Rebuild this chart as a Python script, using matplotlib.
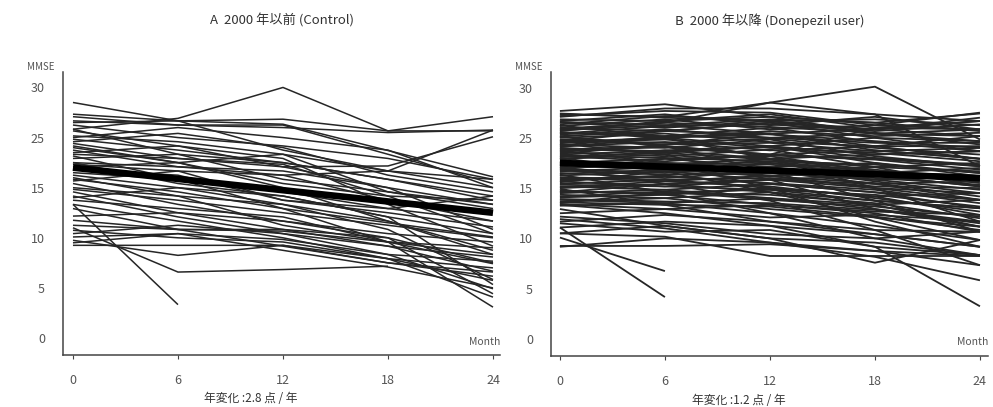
import matplotlib
matplotlib.use("Agg")
import matplotlib.pyplot as plt

plt.rcParams['font.family'] = ['Noto Sans CJK JP', 'DejaVu Sans']

months = [0, 6, 12, 18, 24]
x_ticks = [0, 6, 12, 18, 24]
y_tick_pos = [0, 6, 12, 18, 24, 30]
y_tick_labels = ['0', '5', '10', '15', '25', '30']

titles = ['A  2000 年以前 (Control)', 'B  2000 年以降 (Donepezil user)']
footers = ['年変化 :2.8 点 / 年', '年変化 :1.2 点 / 年']

N = None
# Panel A: individual trajectories (MMSE at months 0, 6, 12, 18, 24)
control = [
    [28.2, 26.0, 25.6, N, 19.3],
    [25.0, 26.3, 30.0, 24.8, 24.8],
    [26.8, 26.0, 26.2, 24.8, 26.5],
    [26.0, 25.5, 25.2, 24.6, 24.9],
    [22.0, 21.5, 20.5, 20.6, 24.1],
    [25.5, 24.0, 23.0, 21.5, 19.0],
    [24.2, 23.5, 22.0, 20.0, 18.0],
    [23.5, 24.5, 22.8, 19.5, 17.5],
    [25.0, 22.0, 21.0, 19.0, 17.0],
    [23.0, 21.0, 18.5, 17.0, 16.5],
    [22.5, 20.5, 20.0, 18.0, 16.0],
    [21.5, 22.0, 19.0, 17.5, 15.5],
    [20.8, 20.0, 19.5, 16.5, 14.0],
    [20.2, 19.5, 16.5, 15.0, 13.3],
    [19.5, 18.0, 17.0, 14.5, 12.5],
    [19.0, 17.5, 15.5, 13.8, 12.1],
    [18.5, 16.0, 14.0, 12.5, 11.5],
    [18.0, 17.0, 13.5, 11.5, 10.8],
    [17.5, 15.0, 13.0, 11.0, 9.7],
    [17.0, 14.5, 12.5, 10.0, 9.2],
    [16.5, 15.5, 14.5, 11.5, 8.9],
    [16.0, 14.0, 12.0, 9.5, 8.4],
    [15.5, 13.0, 11.0, 9.0, 7.9],
    [16.0, 4.0, N, N, N],
    [13.2, 7.9, 8.2, 8.6, N],
    [11.7, 9.9, 11.1, 9.5, 6.9],
    [11.1, 11.1, 11.1, 9.0, 7.4],
    [12.1, 12.5, 11.8, 10.0, 5.9],
    [12.9, 12.0, 11.5, 9.5, 4.9],
    [14.1, 13.0, 12.8, 11.5, 10.0],
    [22.8, 21.0, 18.0, 14.0, 10.5],
    [24.8, 23.0, 21.5, 16.0, 11.0],
    [26.5, 25.5, 25.5, 22.0, 18.5],
    [21.0, 18.5, 17.0, 14.5, 6.4],
    [23.3, 21.5, 20.8, 17.0, 12.5],
    [19.8, 19.0, 15.5, 11.5, 3.7],
    [22.2, 23.0, 20.5, 18.0, 13.0],
    [13.5, 13.0, 13.0, 12.0, 5.3],
    [20.5, 21.0, 22.0, 17.5, 16.0],
    [18.8, 20.0, 16.5, 15.5, 17.0],
    [21.8, 19.0, 17.5, 15.5, 14.0],
    [24.0, 25.2, 24.0, 22.5, 18.0],
    [12.5, 13.5, 12.5, 11.0, 8.0],
    [17.8, 16.5, 15.0, 13.5, 12.0],
    [16.8, 18.0, 16.0, 14.0, 10.0],
    [25.8, 26.0, 22.5, 20.0, 19.0],
    [23.8, 22.5, 21.0, 19.0, 16.5],
    [14.6, 15.0, 14.0, 12.0, 9.0],
    [11.4, 12.5, 10.5, 8.5, 6.0],
    [19.2, 17.0, 16.0, 13.0, 7.0],
    [21.0, 20.5, 19.5, 20.0, 24.9],
]
control_mean = [20.4, 15.0]

# Panel B: individual trajectories
donepezil = [
    [27.2, 28.0, 26.5, 25.8, 26.9],
    [25.0, 25.8, 28.2, 30.1, 23.8],
    [26.8, 26.5, 28.2, 26.8, 20.6],
    [26.6, 27.2, 27.0, 25.5, 27.0],
    [26.2, 26.0, 26.8, 25.2, 26.0],
    [26.0, 26.8, 25.5, 26.5, 25.0],
    [25.8, 25.2, 26.0, 24.5, 24.2],
    [25.4, 26.2, 25.0, 25.5, 25.0],
    [25.2, 24.8, 25.8, 24.0, 23.6],
    [24.9, 25.5, 24.5, 25.0, 26.0],
    [24.6, 24.2, 25.2, 23.5, 22.4],
    [24.4, 25.0, 24.0, 24.5, 23.6],
    [24.0, 24.5, 23.5, 23.0, 24.2],
    [23.8, 23.2, 24.5, 22.5, 21.5],
    [23.5, 24.0, 23.0, 24.0, 22.4],
    [23.2, 22.8, 23.8, 21.8, 20.6],
    [23.0, 23.5, 22.5, 23.0, 23.0],
    [22.8, 22.2, 23.0, 21.0, 19.8],
    [22.6, 23.0, 22.0, 22.5, 21.5],
    [22.3, 21.8, 22.6, 20.5, 18.2],
    [22.0, 22.5, 21.5, 22.0, 22.4],
    [21.8, 21.2, 22.0, 21.5, 20.6],
    [21.5, 22.0, 21.0, 20.0, 19.0],
    [21.2, 20.8, 21.5, 20.5, 21.0],
    [21.0, 21.5, 20.5, 21.0, 19.4],
    [20.8, 20.2, 21.0, 19.5, 18.2],
    [20.6, 21.0, 20.0, 20.5, 20.0],
    [20.3, 19.8, 20.5, 18.8, 17.4],
    [20.0, 20.5, 19.5, 19.8, 19.0],
    [19.8, 19.2, 20.0, 18.5, 16.6],
    [19.5, 20.0, 19.0, 19.5, 18.2],
    [19.2, 18.8, 19.5, 18.0, 17.4],
    [19.0, 19.5, 18.5, 17.5, 15.6],
    [18.8, 18.2, 19.0, 18.5, 18.8],
    [18.5, 19.0, 18.0, 17.0, 14.8],
    [18.2, 17.8, 18.5, 17.5, 16.6],
    [18.0, 18.5, 17.5, 16.0, 13.4],
    [17.7, 17.2, 18.0, 17.0, 17.4],
    [17.4, 17.8, 16.8, 15.5, 14.0],
    [17.2, 16.8, 17.5, 16.5, 15.6],
    [16.9, 17.2, 16.0, 15.0, 12.8],
    [16.6, 16.2, 16.8, 16.0, 16.6],
    [16.4, 16.8, 15.5, 14.5, 13.4],
    [16.1, 15.5, 16.0, 15.2, 14.8],
    [15.9, 16.2, 15.0, 13.5, 11.8],
    [15.0, 15.5, 14.5, 14.8, 14.0],
    [14.0, 14.8, 14.0, 13.0, 12.8],
    [13.3, 14.0, 13.5, 12.5, 11.0],
    [12.6, 13.5, 12.0, 11.5, 10.0],
    [11.0, 12.0, 11.5, 10.5, 8.8],
    [13.3, 5.0, N, N, N],
    [12.1, 8.1, N, N, N],
    [11.1, 11.1, 11.3, 10.5, 9.9],
    [12.6, 12.2, 9.9, 9.9, 9.9],
    [15.5, 13.5, 12.0, 9.1, 11.8],
    [14.3, 13.2, 11.5, 9.8, 7.0],
    [16.0, 15.0, 13.5, 11.0, 3.9],
    [20.5, 18.5, 16.5, 13.0, 8.8],
    [22.5, 21.0, 18.0, 14.0, 11.0],
    [24.2, 23.0, 20.0, 16.5, 12.8],
    [25.5, 24.0, 21.5, 18.0, 14.0],
    [23.3, 22.0, 19.0, 15.5, 13.4],
    [21.6, 20.0, 17.5, 14.5, 11.8],
    [19.6, 17.5, 15.0, 12.0, 10.0],
    [17.9, 16.0, 14.0, 12.5, 11.0],
    [26.5, 27.5, 27.5, 26.8, 26.0],
    [24.8, 26.0, 26.5, 24.5, 25.0],
    [22.9, 24.0, 24.5, 23.0, 21.5],
    [21.4, 22.5, 23.0, 22.0, 22.4],
    [20.2, 21.5, 21.8, 20.0, 19.4],
    [18.7, 20.0, 20.5, 19.0, 19.4],
    [17.5, 18.5, 19.0, 18.0, 16.6],
    [16.2, 17.5, 17.8, 16.5, 15.6],
    [23.6, 24.8, 25.8, 25.0, 24.2],
    [24.1, 23.0, 22.0, 25.2, 25.0],
    [14.6, 13.8, 12.5, 12.0, 12.8],
    [13.8, 12.8, 13.0, 11.0, 10.0],
    [26.9, 26.4, 26.0, 26.2, 25.5],
    [25.9, 25.5, 26.2, 25.8, 24.8],
    [25.1, 25.8, 25.3, 24.6, 23.2],
    [24.7, 24.0, 24.8, 24.2, 24.6],
    [24.2, 24.8, 24.4, 23.6, 22.8],
    [23.7, 23.4, 23.9, 22.8, 22.0],
    [23.4, 23.8, 22.8, 22.2, 21.2],
    [22.7, 22.4, 22.9, 21.6, 20.8],
    [22.4, 22.9, 21.9, 21.4, 20.2],
    [21.9, 21.6, 21.2, 20.8, 19.8],
    [21.7, 22.2, 21.4, 20.2, 19.0],
    [21.1, 21.0, 20.8, 19.8, 20.4],
    [20.9, 20.6, 21.2, 20.0, 18.6],
    [20.4, 20.8, 20.2, 19.2, 18.4],
    [20.1, 19.6, 19.8, 19.0, 17.8],
    [19.7, 20.2, 19.4, 18.6, 17.0],
    [19.3, 19.0, 19.2, 18.2, 18.0],
    [18.9, 19.4, 18.6, 17.8, 16.2],
    [18.4, 18.2, 17.8, 17.2, 15.8],
    [18.1, 18.8, 18.2, 16.8, 15.2],
    [17.6, 17.4, 17.2, 16.2, 14.4],
    [17.0, 17.6, 16.6, 15.8, 14.6],
    [16.7, 16.4, 16.2, 15.4, 13.8],
    [16.3, 16.0, 15.8, 14.6, 13.0],
    [25.6, 26.6, 26.0, 25.0, 26.4],
    [24.5, 25.4, 25.6, 24.8, 25.6],
    [23.1, 24.2, 24.0, 23.4, 23.4],
    [22.1, 23.2, 23.4, 22.4, 22.8],
]
donepezil_mean = [21.0, 19.2]

fig = plt.figure(figsize=(9.93, 4.07), dpi=100)
axA = fig.add_axes([63/993, 52/407, 437/993, 283/407])
axB = fig.add_axes([551/993, 51/407, 437/993, 284/407])

line_col = '#262626'
tick_col = '#555555'

panels = [
    (axA, control, control_mean, titles[0], footers[0], -0.57, 24.4, 1.1),
    (axB, donepezil, donepezil_mean, titles[1], footers[1], -0.51, 24.46, 1.3),
]

for ax, data, mean, title, footer, xl, xr, lw in panels:
    for traj in data:
        xs = [m for m, v in zip(months, traj) if v is not None]
        ys = [v for v in traj if v is not None]
        ax.plot(xs, ys, color=line_col, lw=lw, solid_capstyle='butt')
    ax.plot([months[0], months[-1]], mean, color='black', lw=4.8,
            solid_capstyle='butt')
    ax.set_xlim(xl, xr)
    ax.set_ylim(-2.03, 31.85)
    for s in ['top', 'right']:
        ax.spines[s].set_visible(False)
    for s in ['left', 'bottom']:
        ax.spines[s].set_color('#444444')
        ax.spines[s].set_linewidth(1.1)
    ax.set_xticks(x_ticks)
    ax.set_xticklabels([str(t) for t in x_ticks])
    ax.set_yticks(y_tick_pos)
    ax.set_yticklabels(y_tick_labels)
    ax.tick_params(axis='x', direction='out', length=3, width=0.8,
                   colors='#444444', labelcolor=tick_col, labelsize=9, pad=11)
    ax.tick_params(axis='y', length=0, labelcolor=tick_col, labelsize=9, pad=13)
    ax.text(-0.02, 1.0, 'MMSE', transform=ax.transAxes, fontsize=7,
            color=tick_col, ha='right', va='bottom')
    ax.text(1.0, 0.03, 'Month', transform=ax.transAxes, fontsize=7.5,
            color=tick_col, ha='right', va='bottom')
    ax.set_title(title, fontsize=9.5, color='#333333', pad=34)
    ax.text(0.43, -0.155, footer, transform=ax.transAxes, fontsize=8.5,
            color='#333333', ha='center', va='center')

fig.savefig('out.png', dpi=100, facecolor='white')
